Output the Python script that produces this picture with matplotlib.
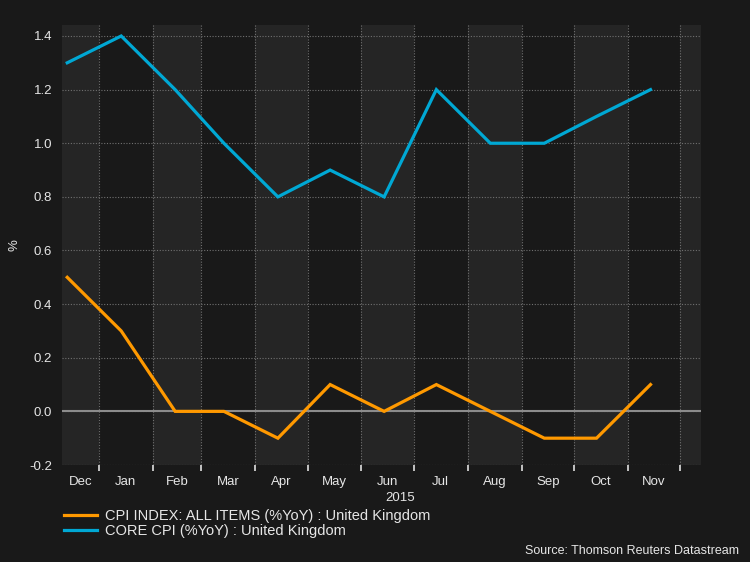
import matplotlib
matplotlib.use("Agg")
import matplotlib.pyplot as plt
import matplotlib.dates as mdates
from matplotlib.ticker import FixedLocator, NullFormatter, FixedFormatter
import datetime as dt

plt.rcParams['font.family'] = ['Liberation Sans', 'DejaVu Sans']

months = ['Dec', 'Jan', 'Feb', 'Mar', 'Apr', 'May', 'Jun', 'Jul', 'Aug', 'Sep', 'Oct', 'Nov']
dates = [dt.date(2014, 12, 14)] + [dt.date(2015, m, 14) for m in range(1, 12)]
cpi = [0.5, 0.3, 0.0, 0.0, -0.1, 0.1, 0.0, 0.1, 0.0, -0.1, -0.1, 0.1]
core = [1.3, 1.4, 1.2, 1.0, 0.8, 0.9, 0.8, 1.2, 1.0, 1.0, 1.1, 1.2]
yticks = [-0.2, 0.0, 0.2, 0.4, 0.6, 0.8, 1.0, 1.2, 1.4]
cpi_label = 'CPI INDEX: ALL ITEMS (%YoY) : United Kingdom'
core_label = 'CORE CPI (%YoY) : United Kingdom'
source = 'Source: Thomson Reuters Datastream'

BG = '#191919'
BAND = '#252525'
TXT = '#e6e6e6'
ORANGE = '#ff9900'
CYAN = '#00a8d4'

fig = plt.figure(figsize=(7.5, 5.62), dpi=100, facecolor=BG)
ax = fig.add_axes([62/750, 1-465/562, (701-62)/750, (465-25)/562])
ax.set_facecolor(BG)

x0 = mdates.date2num(dt.date(2014, 12, 11))
x1 = mdates.date2num(dt.date(2015, 12, 13))

bounds = [dt.date(2014, 12, 1)] + [dt.date(2015, m, 1) for m in range(1, 13)] + [dt.date(2016, 1, 1)]
bnum = [mdates.date2num(b) for b in bounds]
for i in range(len(bnum) - 1):
    if i % 2 == 0:
        ax.axvspan(bnum[i], bnum[i+1], color=BAND, lw=0, zorder=0)

ax.plot(dates, core, color=CYAN, lw=2.3, zorder=4, label=core_label, solid_joinstyle='miter')
ax.plot(dates, cpi, color=ORANGE, lw=2.3, zorder=4, label=cpi_label, solid_joinstyle='miter')
ax.axhline(0, color='#8c8c8c', lw=1.5, zorder=2)

ax.set_xlim(x0, x1)
ax.set_ylim(-0.2, 1.441)
ax.set_yticks(yticks)
ax.set_yticklabels([f'{v:.1f}' for v in yticks])

inner = [b for b in bnum if x0 < b < x1]
ax.xaxis.set_major_locator(FixedLocator(inner))
ax.xaxis.set_major_formatter(NullFormatter())
mids = []
for i in range(len(bnum) - 2):
    a = max(bnum[i], x0)
    b = min(bnum[i+1], x1)
    mids.append((a + b) / 2)
ax.xaxis.set_minor_locator(FixedLocator(mids))
ax.xaxis.set_minor_formatter(FixedFormatter(months))

ax.grid(True, which='major', color='#707070', lw=0.8, linestyle=(0, (1, 1.5)), zorder=1)
ax.set_axisbelow(True)
for s in ax.spines.values():
    s.set_visible(False)

ax.tick_params(axis='x', which='major', direction='out', length=4, width=1.2, color='#e0e0e0')
ax.tick_params(axis='x', which='minor', length=0, pad=8, labelsize=9.5, labelcolor=TXT)
ax.tick_params(axis='y', length=0, pad=7, labelsize=9.5, labelcolor=TXT)

ax.text((mdates.date2num(dt.date(2015, 1, 1)) + x1) / 2, -0.2 - 27/268, '2015',
        ha='center', va='top', color=TXT, fontsize=9.5)

ax.set_ylabel('%', color=TXT, fontsize=9.5)
ax.yaxis.set_label_coords((21 - 62) / 639, (465 - 245) / 440)

handles, labels = ax.get_legend_handles_labels()
leg = fig.legend([handles[1], handles[0]], [labels[1], labels[0]], loc='upper left',
                 bbox_to_anchor=(64/750, 1-509/562), frameon=False, fontsize=10.5,
                 handlelength=2.25, handletextpad=0.55, labelspacing=0.1, borderpad=0,
                 borderaxespad=0)
for t in leg.get_texts():
    t.set_color(TXT)

fig.text(739/750, 1-551/562, source, ha='right', va='center', color=TXT, fontsize=9.0)

fig.savefig('out.png', dpi=100, facecolor=BG)
